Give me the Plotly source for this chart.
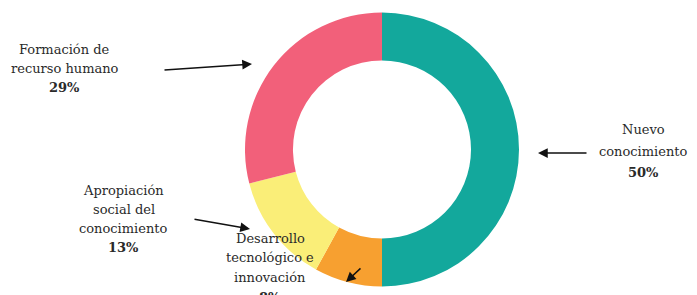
import plotly.graph_objects as go

labels = ["Nuevo conocimiento", "Desarrollo tecnológico e innovación",
          "Apropiación social del conocimiento", "Formación de recurso humano"]
values = [50, 8, 13, 29]
colors = ["#13A89C", "#F7A030", "#FAEE78", "#F2607A"]
label_lines = [["Nuevo", "conocimiento"], ["Desarrollo", "tecnológico e", "innovación"],
               ["Apropiación", "social del", "conocimiento"], ["Formación de", "recurso humano"]]
pct_text = ["50%", "8%", "13%", "29%"]

W, H = 697, 295
OFF = 8  # page body margin in the screenshot


def px(x):
    return (x - OFF) / W


def py(y):
    return 1 - (y - OFF) / H


fig = go.Figure(go.Pie(
    labels=labels, values=values, sort=False, direction="clockwise", rotation=0,
    hole=0.65, marker=dict(colors=colors, line=dict(width=0)),
    textinfo="none", hoverinfo="label+percent", showlegend=False,
    domain=dict(x=[px(382 - 137), px(382 + 137)], y=[py(287), py(12)]),
))

# label layout: (center x, first line y, line step) in pixels; arrow (head, tail) in pixels
label_pos = [(643, 130, 21), (270, 238, 19.7), (124, 190, 19), (65, 50, 19)]
arrows = [((538, 153), (588, 153)), ((346, 282), (362, 267)),
          ((250, 229), (193, 219)), ((252, 64), (163, 70))]

font = dict(family="DejaVu Serif", size=13, color="#2a2a2a")
for lines, pct, (lx, ly, step), (head, tail) in zip(label_lines, pct_text, label_pos, arrows):
    all_lines = lines + ["<b>" + pct + "</b>"]
    for i, t in enumerate(all_lines):
        fig.add_annotation(text=t, x=px(lx), y=py(ly + i * step), xref="paper", yref="paper",
                           xanchor="center", yanchor="middle", showarrow=False, font=font)
    fig.add_annotation(text="", x=px(head[0]), y=py(head[1]), xref="paper", yref="paper",
                       ax=tail[0] - head[0], ay=tail[1] - head[1], showarrow=True,
                       arrowhead=2, arrowsize=1.3, arrowwidth=1.5, arrowcolor="#111111")

fig.update_layout(width=W, height=H, margin=dict(l=0, r=0, t=0, b=0),
                  paper_bgcolor="white", plot_bgcolor="white")
fig.write_html("out.html")
